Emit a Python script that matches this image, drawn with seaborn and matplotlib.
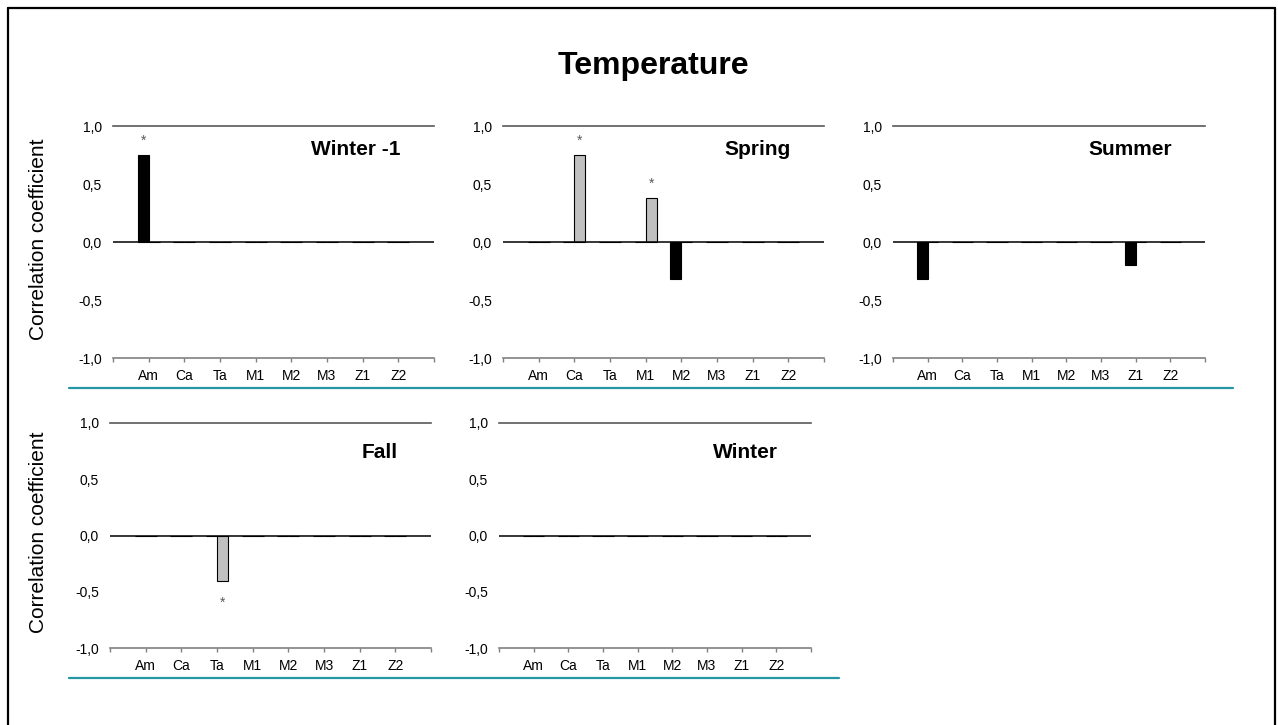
import numpy as np
import pandas as pd
import seaborn as sns
import matplotlib.pyplot as plt
from matplotlib.lines import Line2D

sns.set_theme(style="white")
plt.rcParams['font.family'] = ['Liberation Sans', 'DejaVu Sans']
plt.rcParams['text.color'] = 'black'
plt.rcParams['xtick.labelcolor'] = 'black'
plt.rcParams['ytick.labelcolor'] = 'black'

# ---- data -------------------------------------------------------------
categories = ["Am", "Ca", "Ta", "M1", "M2", "M3", "Z1", "Z2"]
seasons = ["Winter -1", "Spring", "Summer", "Fall", "Winter"]
series_names = ["Series 1", "Series 2"]
ytick_values = [-1.0, -0.5, 0.0, 0.5, 1.0]
ytick_labels = ["-1,0", "-0,5", "0,0", "0,5", "1,0"]

# correlation coefficients, first series (black bars)
s1_winter_prev = [0.75, 0, 0, 0, 0, 0, 0, 0]
s1_spring = [0, 0, 0, 0, -0.32, 0, 0, 0]
s1_summer = [-0.32, 0, 0, 0, 0, 0, -0.20, 0]
s1_fall = [0, 0, 0, 0, 0, 0, 0, 0]
s1_winter = [0, 0, 0, 0, 0, 0, 0, 0]

# correlation coefficients, second series (grey bars)
s2_winter_prev = [0, 0, 0, 0, 0, 0, 0, 0]
s2_spring = [0, 0.75, 0, 0.38, 0, 0, 0, 0]
s2_summer = [0, 0, 0, 0, 0, 0, 0, 0]
s2_fall = [0, 0, -0.40, 0, 0, 0, 0, 0]
s2_winter = [0, 0, 0, 0, 0, 0, 0, 0]

# significance flags (*)
sig1_winter_prev = [1, 0, 0, 0, 0, 0, 0, 0]
sig1_spring = [0, 0, 0, 0, 0, 0, 0, 0]
sig1_summer = [0, 0, 0, 0, 0, 0, 0, 0]
sig1_fall = [0, 0, 0, 0, 0, 0, 0, 0]
sig1_winter = [0, 0, 0, 0, 0, 0, 0, 0]
sig2_winter_prev = [0, 0, 0, 0, 0, 0, 0, 0]
sig2_spring = [0, 1, 0, 1, 0, 0, 0, 0]
sig2_summer = [0, 0, 0, 0, 0, 0, 0, 0]
sig2_fall = [0, 0, 1, 0, 0, 0, 0, 0]
sig2_winter = [0, 0, 0, 0, 0, 0, 0, 0]

values = {
    "Winter -1": (s1_winter_prev, s2_winter_prev, sig1_winter_prev, sig2_winter_prev),
    "Spring": (s1_spring, s2_spring, sig1_spring, sig2_spring),
    "Summer": (s1_summer, s2_summer, sig1_summer, sig2_summer),
    "Fall": (s1_fall, s2_fall, sig1_fall, sig2_fall),
    "Winter": (s1_winter, s2_winter, sig1_winter, sig2_winter),
}

# ---- layout -----------------------------------------------------------
W, H = 1278, 725
fig = plt.figure(figsize=(W / 100, H / 100), dpi=100)
fig.patch.set_facecolor("white")


def px_axes(left, top, right, bottom):
    return [left / W, 1 - bottom / H, (right - left) / W, (bottom - top) / H]


axes_boxes = {
    "Winter -1": px_axes(113, 126, 434, 358),
    "Spring": px_axes(503, 126, 824, 358),
    "Summer": px_axes(893, 126, 1205, 358),
    "Fall": px_axes(110, 423, 431, 648),
    "Winter": px_axes(499, 423, 811, 648),
}
title_y = {"Winter -1": 0.80, "Spring": 0.80, "Summer": 0.80,
           "Fall": 0.74, "Winter": 0.74}

palette = {series_names[0]: "black", series_names[1]: "#c0c0c0"}
axis_grey = "#808080"

for season in seasons:
    s1, s2, g1, g2 = values[season]
    df = pd.DataFrame({
        "category": categories * 2,
        "series": [series_names[0]] * len(categories) + [series_names[1]] * len(categories),
        "r": list(s1) + list(s2),
    })
    ax = fig.add_axes(axes_boxes[season])
    sns.barplot(data=df, x="category", y="r", hue="series",
                order=categories, hue_order=series_names, palette=palette,
                width=0.62, gap=0, edgecolor="black", linewidth=0.8,
                errorbar=None, legend=False, ax=ax, zorder=3)

    # significance stars beyond the end of each flagged bar
    for container, flags in zip(ax.containers, (g1, g2)):
        for bar, flag in zip(container, flags):
            if flag:
                h = bar.get_height()
                xc = bar.get_x() + bar.get_width() / 2
                offset = 0.12 if h >= 0 else -0.20
                ax.text(xc, h + offset, "*", ha="center",
                        va="center", fontsize=10, color="#595959")

    ax.set_xlim(-1, len(categories))
    ax.set_ylim(-1, 1)
    ax.set_xticks(np.arange(-1, len(categories) + 1))
    ax.set_xticklabels([""] + categories + [""], fontsize=10)
    ax.set_yticks(ytick_values)
    ax.set_yticklabels(ytick_labels, fontsize=10)
    ax.set_xlabel("")
    ax.set_ylabel("")
    ax.axhline(0, color="black", lw=1.1, zorder=4)
    for side in ("left", "right"):
        ax.spines[side].set_visible(False)
    for side in ("top", "bottom"):
        ax.spines[side].set_visible(True)
        ax.spines[side].set_color(axis_grey if side == "bottom" else "#595959")
        ax.spines[side].set_linewidth(1.2)
    ax.tick_params(axis="x", direction="out", length=3, width=1,
                   color=axis_grey, pad=5, bottom=True)
    ax.tick_params(axis="y", length=0, pad=8, left=True)
    ax.grid(False)
    ax.set_facecolor("none")
    ax.text(0.895, title_y[season], season, transform=ax.get_yaxis_transform(),
            ha="right", va="center", fontsize=15, fontweight="bold")

# y-axis titles for each row
fig.text(39 / W, 1 - 239 / H, "Correlation coefficient", rotation=90,
         ha="center", va="center", fontsize=15)
fig.text(39 / W, 1 - 532 / H, "Correlation coefficient", rotation=90,
         ha="center", va="center", fontsize=15)

# main title
fig.text(653 / W, 1 - 66 / H, "Temperature", ha="center", va="center",
         fontsize=23, fontweight="bold")

# teal separator rules under each row
teal = "#2596a3"
fig.add_artist(Line2D([69 / W, 1233 / W], [1 - 388 / H] * 2, color=teal,
                      lw=1.6, transform=fig.transFigure))
fig.add_artist(Line2D([69 / W, 839 / W], [1 - 678 / H] * 2, color=teal,
                      lw=1.6, transform=fig.transFigure))

# outer frame (open at the bottom)
frame_kw = dict(color="black", lw=1.6, transform=fig.transFigure)
fig.add_artist(Line2D([8 / W, 8 / W], [0, 1 - 8 / H], **frame_kw))
fig.add_artist(Line2D([8 / W, 1275 / W], [1 - 8 / H] * 2, **frame_kw))
fig.add_artist(Line2D([1275 / W, 1275 / W], [0, 1 - 8 / H], **frame_kw))

fig.savefig("out.png", dpi=100, facecolor="white")
